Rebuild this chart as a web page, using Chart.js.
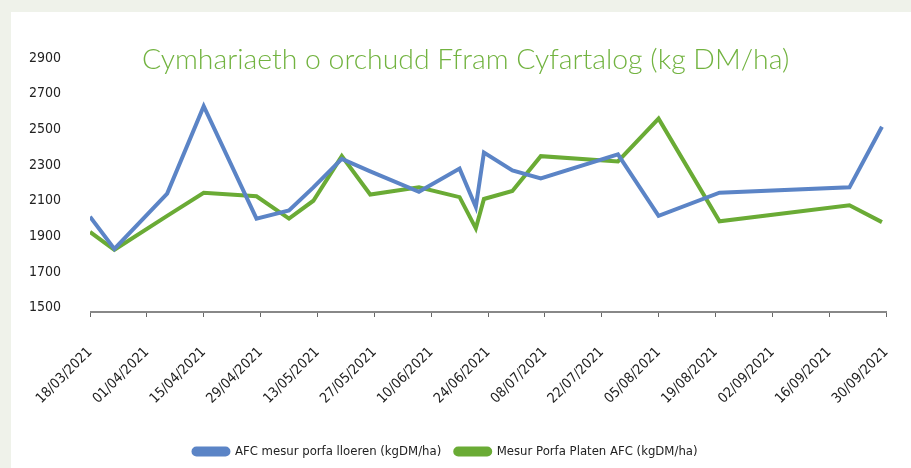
<!DOCTYPE html>
<html>
<head>
<meta charset="utf-8">
<script src="https://cdn.jsdelivr.net/npm/chart.js@4.4.1/dist/chart.umd.min.js"></script>
<style>
  html, body { margin: 0; padding: 0; }
  body { width: 911px; height: 468px; background: #eff2ea; position: relative; overflow: hidden; }
  #panel { position: absolute; left: 11px; top: 12px; width: 915px; height: 456px; background: #fff; }
  #title {
    position: absolute; left: 142px; top: 41px; white-space: nowrap;
    font-family: Lato, 'Open Sans', sans-serif; font-weight: 300; font-size: 28.4px; line-height: 34px;
    color: #72b340;
  }
  canvas { display: block; }
</style>
</head>
<body>
<div id="panel"><canvas id="chart" width="915" height="456"></canvas></div>
<div id="title">Cymhariaeth o orchudd Ffram Cyfartalog (kg DM/ha)</div>
<script>
// Dyddiadau'r mesuriadau
const sampleDates = [
  '18/03/2021', '24/03/2021', '06/04/2021', '15/04/2021', '28/04/2021',
  '06/05/2021', '12/05/2021', '19/05/2021', '26/05/2021', '07/06/2021',
  '17/06/2021', '21/06/2021', '23/06/2021', '30/06/2021', '07/07/2021',
  '26/07/2021', '05/08/2021', '20/08/2021', '21/09/2021', '29/09/2021'
];

// AFC mesur porfa lloeren (kgDM/ha)
const satelliteAfc = [
  2010, 1830, 2140, 2630, 2000, 2045, 2175, 2335, 2265, 2150,
  2280, 2065, 2370, 2270, 2225, 2360, 2015, 2145, 2175, 2515
];

// Mesur Porfa Platen AFC (kgDM/ha)
const plateAfc = [
  1925, 1825, 2015, 2145, 2125, 2000, 2100, 2350, 2135, 2175,
  2120, 1945, 2110, 2155, 2350, 2320, 2560, 1985, 2075, 1980
];

const tickDates = [
  '18/03/2021', '01/04/2021', '15/04/2021', '29/04/2021', '13/05/2021',
  '27/05/2021', '10/06/2021', '24/06/2021', '08/07/2021', '22/07/2021',
  '05/08/2021', '19/08/2021', '02/09/2021', '16/09/2021', '30/09/2021'
];

const yTicks = [1500, 1700, 1900, 2100, 2300, 2500, 2700, 2900];

// ffont cul
const FONT = "'DejaVu Sans Condensed', 'DejaVu Sans', sans-serif";
const NARROW = 'condensed';
const BLUE = '#5b84c6';
const GREEN = '#6aab35';

// dyddiad dd/mm/yyyy -> nifer o ddyddiau ers y dyddiad cyntaf
function dayOffset(str) {
  const [d, m, y] = str.split('/').map(Number);
  const [d0, m0, y0] = tickDates[0].split('/').map(Number);
  return Math.round((Date.UTC(y, m - 1, d) - Date.UTC(y0, m0 - 1, d0)) / 864e5);
}

const toPoints = values => sampleDates.map((s, i) => ({ x: dayOffset(s), y: values[i] }));

// symud y chwedl ychydig i'r chwith
const legendShift = {
  id: 'legendShift',
  afterLayout(chart) {
    chart.legend.left -= 3;
    chart.legend.right -= 3;
  }
};

// llinell yr echelin x, dim ond ar draws ardal y siart
const axisLine = {
  id: 'axisLine',
  afterDraw(chart) {
    const { ctx, chartArea } = chart;
    ctx.save();
    ctx.strokeStyle = '#888';
    ctx.lineWidth = 2;
    ctx.beginPath();
    ctx.moveTo(chartArea.left, chartArea.bottom + 1);
    ctx.lineTo(chartArea.right + 1, chartArea.bottom + 1);
    ctx.stroke();
    ctx.restore();
  }
};

new Chart(document.getElementById('chart'), {
  type: 'line',
  data: {
    datasets: [
      {
        label: 'AFC mesur porfa lloeren (kgDM/ha)',
        data: toPoints(satelliteAfc),
        borderColor: BLUE,
        backgroundColor: BLUE
      },
      {
        label: 'Mesur Porfa Platen AFC (kgDM/ha)',
        data: toPoints(plateAfc),
        borderColor: GREEN,
        backgroundColor: GREEN
      }
    ]
  },
  options: {
    responsive: false,
    animation: false,
    layout: { padding: { top: 46, right: 40, left: 0, bottom: 0 } },
    elements: {
      point: { radius: 0 },
      line: { borderWidth: 4, tension: 0, borderJoinStyle: 'miter', fill: false }
    },
    plugins: {
      title: { display: false },
      tooltip: { enabled: false },
      legend: {
        position: 'bottom',
        labels: {
          boxWidth: 35,
          boxHeight: 6,
          useBorderRadius: true,
          borderRadius: 3,
          padding: 14,
          color: '#222',
          font: { family: FONT, style: NARROW, size: 13 }
        }
      }
    },
    scales: {
      x: {
        type: 'linear',
        min: 0,
        max: dayOffset(tickDates[tickDates.length - 1]),
        afterBuildTicks: scale => { scale.ticks = tickDates.map(s => ({ value: dayOffset(s) })); },
        afterFit: scale => { scale.height = 120; },
        grid: { display: true, drawOnChartArea: false, drawTicks: true, tickLength: 6, color: '#666', lineWidth: 1 },
        border: { display: false },
        ticks: {
          autoSkip: false,
          minRotation: 45,
          maxRotation: 45,
          padding: 27,
          color: '#222',
          font: { family: FONT, style: NARROW, size: 14 },
          callback: (v, i) => tickDates[i]
        }
      },
      y: {
        min: 1482,
        max: 2900,
        afterBuildTicks: scale => { scale.ticks = yTicks.map(v => ({ value: v })); },
        afterFit: scale => { scale.width = 79; },
        grid: { display: false },
        border: { display: false },
        ticks: {
          padding: 21,
          color: '#222',
          font: { family: FONT, style: NARROW, size: 14 },
          callback: v => String(v)
        }
      }
    }
  },
  plugins: [legendShift, axisLine]
});
</script>
</body>
</html>
